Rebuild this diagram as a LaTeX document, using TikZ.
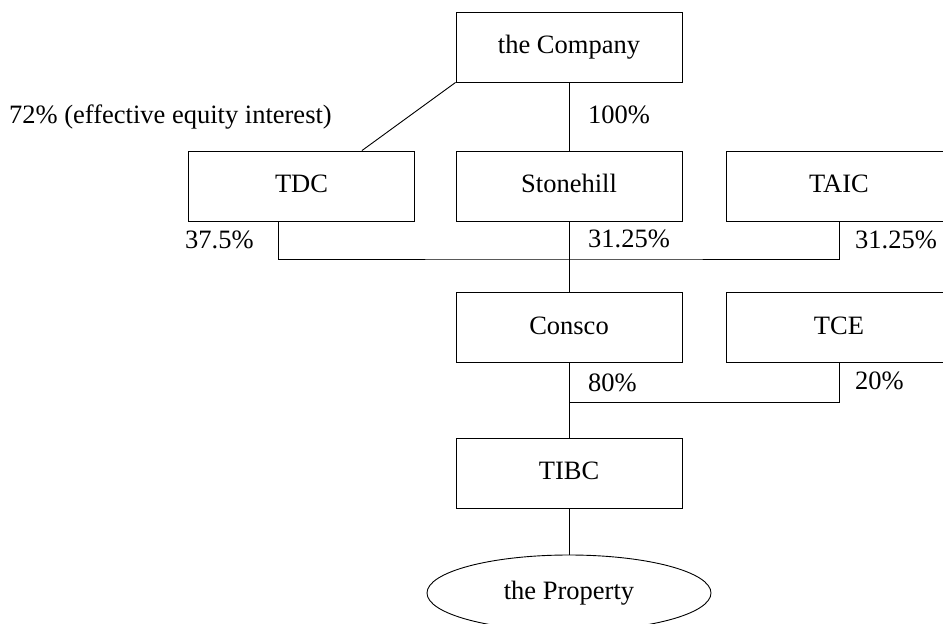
\documentclass[tikz,border=0pt]{standalone}
\usepackage{fontspec}
\setmainfont{Liberation Serif}
\usetikzlibrary{shapes.geometric,calc}
\begin{document}
\begin{tikzpicture}[x=1pt,y=-1pt,
  every node/.style={font=\fontsize{26.5}{32}\selectfont},
  entbox/.style={draw,line width=0.9pt,minimum width=226pt,minimum height=70pt,inner sep=0pt,text height=18pt,text depth=5pt},
  propell/.style={draw,line width=0.9pt,ellipse,minimum width=284pt,minimum height=76pt,inner sep=0pt,text height=18pt,text depth=5pt},
  pct/.style={anchor=base west,inner sep=0pt},
  link/.style={line width=0.9pt}]
\useasboundingbox (0,0) rectangle (943,624);
\clip (0,0) rectangle (943,624);
\node[entbox] (co) at (569,47) {the Company};
\node[entbox] (tdc) at (301.5,186) {TDC};
\node[entbox] (sh) at (569,186) {Stonehill};
\node[entbox] (taic) at (839,186) {TAIC};
\node[entbox] (consco) at (569,327.5) {Consco};
\node[entbox] (tce) at (839,327.5) {TCE};
\node[entbox] (tibc) at (569,473) {TIBC};
\node[propell] (prop) at (569,593) {the Property};
\coordinate (j1) at (569,259);
\coordinate (j2) at (569,402);
\draw[link] (co.south west) -- ($(tdc.north east)+(-53,0)$);
\draw[link] (co.south) -- (sh.north);
\draw[link] ($(tdc.south)+(-23.5,0)$) |- (j1) -| (taic.south);
\draw[link] (sh.south) -- (consco.north);
\draw[link] (consco.south) -- (tibc.north);
\draw[link] (tce.south) |- (j2);
\draw[link] (tibc.south) -- (prop.north);
\node[pct] (l72) at (9,123) {72\% (effective equity interest)};
\node[pct] (l100) at (588,123) {100\%};
\node[pct] (l375) at (185,248) {37.5\%};
\node[pct] (l3125a) at (588,247.5) {31.25\%};
\node[pct] (l3125b) at (855,248) {31.25\%};
\node[pct] (l80) at (588,391) {80\%};
\node[pct] (l20) at (855,389) {20\%};
\end{tikzpicture}
\end{document}
